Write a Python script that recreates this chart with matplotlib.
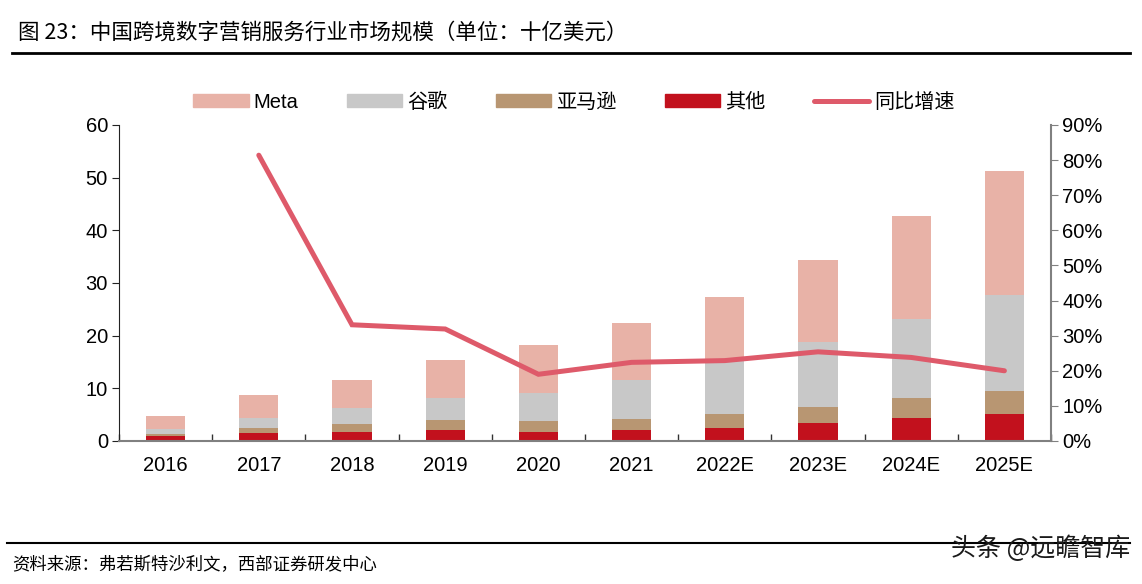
import matplotlib
matplotlib.use("Agg")
import matplotlib.pyplot as plt
import numpy as np
from matplotlib.lines import Line2D
from matplotlib.patches import Patch
from matplotlib.ticker import FuncFormatter, FixedLocator

plt.rcParams['font.family'] = ['Liberation Sans', 'Noto Sans CJK SC', 'DejaVu Sans']

years = ['2016', '2017', '2018', '2019', '2020', '2021', '2022E', '2023E', '2024E', '2025E']
other = [1.0, 1.6, 1.8, 2.1, 1.8, 2.0, 2.55, 3.35, 4.4, 5.15]
amazon = [0.4, 0.95, 1.45, 1.9, 2.0, 2.15, 2.55, 3.1, 3.75, 4.4]
google = [0.8, 1.85, 3.05, 4.25, 5.4, 7.4, 10.1, 12.4, 15.0, 18.15]
meta = [2.6, 4.4, 5.3, 7.05, 9.1, 10.8, 12.2, 15.6, 19.55, 23.5]
growth_years = years[1:]
growth = [81.4, 33.1, 31.9, 19.0, 22.4, 22.9, 25.4, 23.8, 20.0]

c_meta = '#E8B2A7'
c_google = '#C8C8C8'
c_amazon = '#B89672'
c_other = '#C2111D'
c_line = '#DE5A6A'

fig = plt.figure(figsize=(11.42, 5.84), dpi=100)
ax = fig.add_axes([119/1142, 1-441/584, (1051-119)/1142, (441-125)/584])
ax2 = ax.twinx()

x = np.arange(len(years))
w = 0.42
b1 = np.array(other)
b2 = b1 + np.array(amazon)
b3 = b2 + np.array(google)
ax.bar(x, other, w, color=c_other, zorder=2)
ax.bar(x, amazon, w, bottom=b1, color=c_amazon, zorder=2)
ax.bar(x, google, w, bottom=b2, color=c_google, zorder=2)
ax.bar(x, meta, w, bottom=b3, color=c_meta, zorder=2)

gx = [years.index(y) for y in growth_years]
ax2.plot(gx, growth, color=c_line, lw=3.6, solid_capstyle='round', solid_joinstyle='miter', zorder=3)

ax.set_xlim(-0.5, len(years) - 0.5)
ax.set_ylim(0, 60)
ax.set_yticks(np.arange(0, 61, 10))
ax2.set_ylim(0, 90)
ax2.set_yticks(np.arange(0, 91, 10))
ax2.yaxis.set_major_formatter(FuncFormatter(lambda v, p: f'{int(v)}%'))

fs = 14.5
ax.set_xticks(x)
ax.set_xticklabels(years)
ax.xaxis.set_minor_locator(FixedLocator(np.arange(-0.5, len(years), 1.0)))
ax.tick_params(axis='x', which='major', length=0, pad=11, labelsize=fs)
ax.tick_params(axis='x', which='minor', direction='in', length=5, color='#333333', width=1)
ax.tick_params(axis='y', direction='out', length=5, color='#222222', labelsize=fs, pad=3)
ax2.tick_params(axis='y', direction='out', length=5, color='#808080', labelsize=fs, pad=3)

for a in (ax, ax2):
    a.spines['top'].set_visible(False)
ax.spines['right'].set_visible(False)
ax.spines['left'].set_color('#222222')
ax.spines['bottom'].set_color('#808080')
ax.spines['bottom'].set_linewidth(1.5)
ax2.spines['left'].set_visible(False)
ax2.spines['bottom'].set_visible(False)
ax2.spines['right'].set_color('#808080')
ax2.spines['right'].set_linewidth(1.5)

handles = [Patch(color=c_meta), Patch(color=c_google), Patch(color=c_amazon), Patch(color=c_other),
           Line2D([0], [0], color=c_line, lw=3.6, solid_capstyle='round')]
labels = ['Meta', '谷歌', '亚马逊', '其他', '同比增速']
fig.legend(handles, labels, ncol=5, loc='center', bbox_to_anchor=(574/1142, 1-102/584),
           frameon=False, fontsize=fs, handlelength=2.75, handleheight=0.65,
           columnspacing=2.4, handletextpad=0.25)

fig.text(18/1142, 1-33/584, '图 23：中国跨境数字营销服务行业市场规模（单位：十亿美元）',
         fontsize=15.5, va='center', ha='left', family=['Noto Sans CJK SC', 'DejaVu Sans'])
fig.add_artist(Line2D([12/1142, 1130/1142], [1-53/584, 1-53/584], color='black', lw=2))
fig.add_artist(Line2D([7/1142, 1130/1142], [1-543/584, 1-543/584], color='black', lw=1.5))
fig.text(12/1142, 1-565/584, '资料来源：弗若斯特沙利文，西部证券研发中心',
         fontsize=12.5, va='center', ha='left', family=['Noto Sans CJK SC', 'DejaVu Sans'])
fig.text(1130/1142, 1-549/584, '头条 @远瞻智库', fontsize=18, va='center', ha='right',
         color='#1a1a1a', family=['Noto Sans CJK SC', 'DejaVu Sans'])

fig.savefig('out.png', dpi=100)
